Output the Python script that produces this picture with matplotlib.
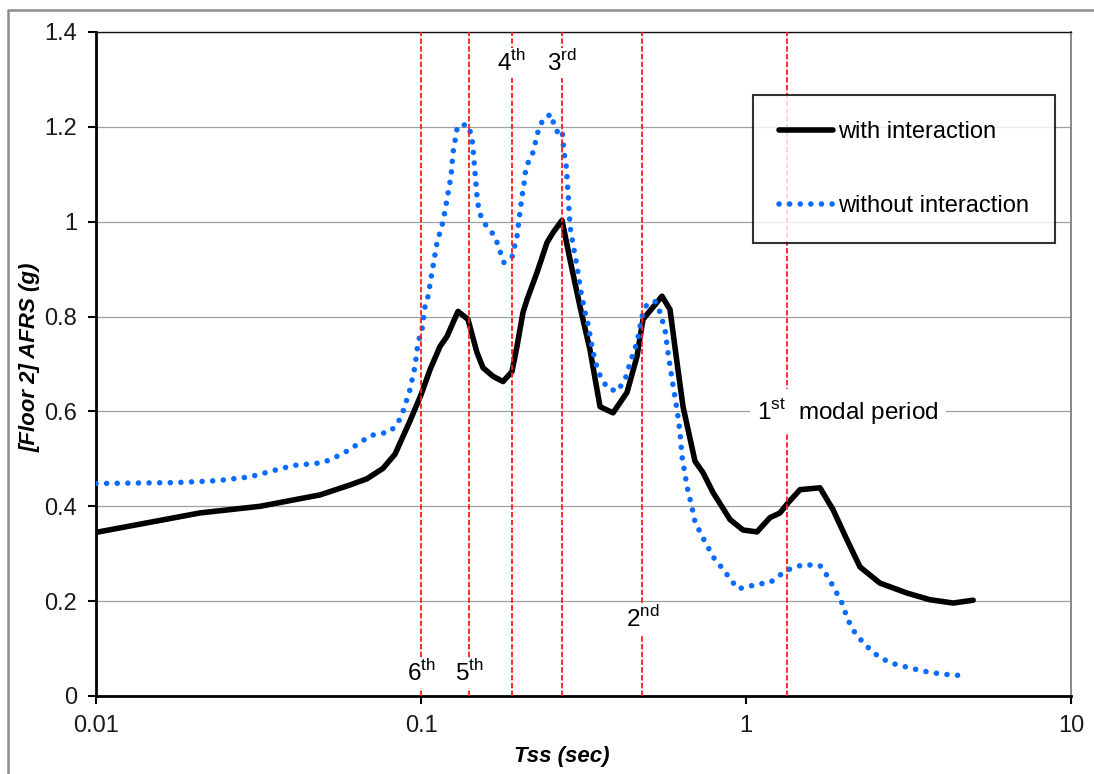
import matplotlib
matplotlib.use("Agg")
import matplotlib.pyplot as plt
from matplotlib.lines import Line2D
from matplotlib.ticker import FixedLocator, FuncFormatter, NullLocator

plt.rcParams['font.family'] = ['Liberation Sans', 'DejaVu Sans']
plt.rcParams['mathtext.fontset'] = 'custom'
plt.rcParams['mathtext.rm'] = 'Liberation Sans'

# --- data ---
periods_with = [0.01, 0.0209, 0.032, 0.0489, 0.0605, 0.0682, 0.0764, 0.0832, 0.0925, 0.1,
                0.1066, 0.1144, 0.1202, 0.126, 0.13, 0.1395, 0.1487, 0.1552, 0.1666, 0.1788,
                0.1905, 0.1974, 0.206, 0.212, 0.2275, 0.2442, 0.2548, 0.2716, 0.2874, 0.3085,
                0.3311, 0.3555, 0.3898, 0.4303, 0.4619, 0.482, 0.5322, 0.5513, 0.5836, 0.6134,
                0.6401, 0.6968, 0.7374, 0.7918, 0.893, 0.979, 1.081, 1.185, 1.272, 1.346,
                1.466, 1.689, 1.852, 2.046, 2.243, 2.584, 3.13, 3.68, 4.34, 5.0]
afrs_with = [0.345, 0.386, 0.400, 0.424, 0.445, 0.458, 0.480, 0.510, 0.580, 0.635,
             0.688, 0.737, 0.758, 0.790, 0.811, 0.794, 0.724, 0.692, 0.674, 0.663,
             0.684, 0.737, 0.809, 0.836, 0.893, 0.956, 0.977, 1.003, 0.920, 0.821,
             0.730, 0.610, 0.597, 0.640, 0.716, 0.794, 0.830, 0.843, 0.815, 0.703,
             0.610, 0.495, 0.471, 0.429, 0.372, 0.350, 0.346, 0.376, 0.386, 0.407,
             0.435, 0.439, 0.393, 0.329, 0.272, 0.238, 0.217, 0.203, 0.196, 0.202]

periods_without = [0.01, 0.01775, 0.02357, 0.02978, 0.03504, 0.04039, 0.04995, 0.05754, 0.06492, 0.06967,
                   0.08027, 0.08496, 0.08802, 0.0925, 0.09583, 0.0979, 0.1007, 0.1029, 0.1051, 0.1081,
                   0.112, 0.1169, 0.1202, 0.1237, 0.1255, 0.129, 0.1309, 0.1395, 0.1435, 0.1456,
                   0.1466, 0.1487, 0.1509, 0.1574, 0.1689, 0.175, 0.18, 0.1905, 0.1974, 0.2003,
                   0.2046, 0.2075, 0.2104, 0.2211, 0.2291, 0.2373, 0.2512, 0.2566, 0.2621, 0.2716,
                   0.2754, 0.2794, 0.2834, 0.2874, 0.2936, 0.302, 0.3107, 0.3197, 0.3266, 0.3382,
                   0.3504, 0.3736, 0.401, 0.4245, 0.4398, 0.4619, 0.472, 0.482, 0.4959, 0.5248,
                   0.54, 0.5635, 0.5754, 0.5961, 0.6134, 0.6266, 0.6356, 0.6493, 0.6586, 0.6823,
                   0.6968, 0.7478, 0.8027, 0.8497, 0.893, 0.9449, 1.007, 1.089, 1.185, 1.272,
                   1.346, 1.498, 1.689, 1.788, 1.878, 1.974, 2.06, 2.165, 2.324, 2.548,
                   2.774, 3.197, 3.606, 4.038, 4.8]
afrs_without = [0.448, 0.450, 0.454, 0.462, 0.475, 0.486, 0.492, 0.511, 0.534, 0.549,
                0.557, 0.576, 0.600, 0.646, 0.695, 0.745, 0.773, 0.821, 0.843, 0.893,
                0.956, 1.000, 1.047, 1.096, 1.146, 1.195, 1.204, 1.204, 1.178, 1.128,
                1.104, 1.054, 1.020, 0.995, 0.969, 0.938, 0.914, 0.925, 0.969, 1.005,
                1.054, 1.079, 1.115, 1.146, 1.190, 1.216, 1.227, 1.204, 1.190, 1.195,
                1.146, 1.121, 1.062, 0.990, 0.952, 0.906, 0.851, 0.809, 0.783, 0.726,
                0.684, 0.650, 0.642, 0.667, 0.703, 0.745, 0.779, 0.809, 0.826, 0.832,
                0.815, 0.773, 0.724, 0.655, 0.604, 0.555, 0.505, 0.467, 0.441, 0.397,
                0.367, 0.325, 0.287, 0.268, 0.247, 0.226, 0.230, 0.236, 0.239, 0.255,
                0.266, 0.277, 0.275, 0.251, 0.224, 0.196, 0.160, 0.133, 0.108, 0.084,
                0.070, 0.059, 0.051, 0.046, 0.042]

modal_periods = [1.34, 0.48, 0.271, 0.19, 0.1405, 0.1]
mode_names = ['1', '2', '3', '4', '5', '6']
mode_suffix = ['st', 'nd', 'rd', 'th', 'th', 'th']

fig = plt.figure(figsize=(10.94, 7.74), dpi=100)
ax = fig.add_axes([96 / 1094, 1 - 696 / 774, 975 / 1094, 664 / 774])

# outer chart border (cropped)
fig.add_artist(Line2D([8 / 1094, 8 / 1094, 1.0], [0.0, 1 - 10 / 774, 1 - 10 / 774],
                      transform=fig.transFigure, color='#8c8c8c', lw=1.8))

ax.plot(periods_with, afrs_with, color='black', lw=4.0, solid_capstyle='round',
        solid_joinstyle='round', label='with interaction', zorder=3)
ax.plot(periods_without, afrs_without, color='#0a6cff', lw=4.0,
        linestyle=(0, (0.01, 1.9)), dash_capstyle='round',
        label='without interaction', zorder=3)

for p in modal_periods:
    ax.axvline(p, color='#ff1a1a', lw=1.3, linestyle=(0, (3, 1.3)), zorder=4)

box = dict(facecolor='white', edgecolor='none', pad=1.5)
label_y = [0.6, 0.162, 1.335, 1.335, 0.048, 0.048]
for p, n, s, yy in zip(modal_periods, mode_names, mode_suffix, label_y):
    txt = n + r'$^{\mathrm{' + s + '}}$'
    if n == '1':
        txt = txt + '  modal period'
        ax.text(2.06, yy, txt, ha='center', va='center', fontsize=17.5,
                bbox=dict(facecolor='white', edgecolor='none', pad=5), zorder=5)
    else:
        ax.text(p, yy, txt, ha='center', va='center', fontsize=17.5, bbox=box, zorder=5)

ax.set_xscale('log')
ax.set_xlim(0.01, 10)
ax.set_ylim(0, 1.4)
ax.xaxis.set_major_locator(FixedLocator([0.01, 0.1, 1, 10]))
ax.xaxis.set_minor_locator(NullLocator())
ax.xaxis.set_major_formatter(FuncFormatter(lambda v, pos: '%g' % v))
ax.set_yticks([0, 0.2, 0.4, 0.6, 0.8, 1.0, 1.2, 1.4])
ax.yaxis.set_major_formatter(FuncFormatter(lambda v, pos: '%g' % round(v, 1)))
ax.tick_params(axis='both', direction='out', length=5.5, width=1.5, labelsize=17,
               color='black', labelcolor='#1a1a1a')
ax.tick_params(axis='y', pad=8)
ax.tick_params(axis='x', pad=8)

ax.grid(axis='y', color='#a0a0a0', lw=0.9, zorder=0)
ax.set_axisbelow(True)

ax.spines['left'].set_linewidth(2.0)
ax.spines['bottom'].set_linewidth(2.0)
ax.spines['top'].set_linewidth(1.0)
ax.spines['top'].set_color('#111111')
ax.spines['right'].set_linewidth(1.4)
ax.spines['right'].set_color('#888888')

ax.set_xlabel('Tss (sec)', fontsize=16, fontweight='bold', style='italic')
ax.set_ylabel('[Floor 2] AFRS (g)', fontsize=16, fontweight='bold', style='italic')
ax.xaxis.set_label_coords(0.478, -0.075)
ax.yaxis.set_label_coords(-0.057, 0.51)

leg = ax.legend(loc='upper left', bbox_to_anchor=(0.674, 0.905), borderaxespad=0,
                fontsize=17, frameon=True, fancybox=False, handlelength=2.3,
                handletextpad=0.2, labelspacing=2.2, borderpad=1.1)
leg.get_frame().set_edgecolor('black')
leg.get_frame().set_linewidth(1.5)
leg.set_zorder(6)

fig.savefig('out.png', dpi=100)
